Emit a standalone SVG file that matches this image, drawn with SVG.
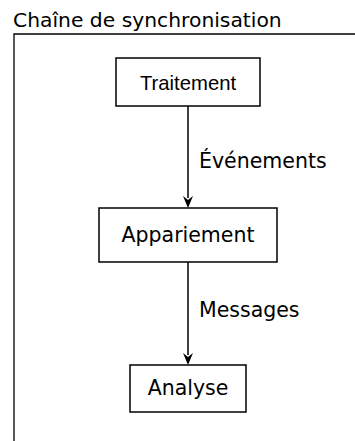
<svg xmlns="http://www.w3.org/2000/svg" width="355" height="441" viewBox="0 0 355 441">
<defs>
<style>
.box{fill:#fff;stroke:#000;stroke-width:1.5}
.frame{fill:none;stroke:#000;stroke-width:1.3}
.lbl{font-family:"DejaVu Sans",sans-serif;font-size:20.5px;fill:#000}
.arial{font-family:"Liberation Sans",Arial,sans-serif;font-size:20.3px;fill:#000}
.edge{stroke:#000;stroke-width:1.5;fill:none}
.head{fill:#000}
</style>
</defs>
<rect width="355" height="441" fill="#fff"/>
<g id="frame">
<path class="frame" d="M14,441 V34 H355"/>
<text class="lbl" x="13" y="27" style="font-size:20.3px">Chaîne de synchronisation</text>
</g>
<g id="connectors">
<line class="edge" x1="188" y1="106" x2="188" y2="198"/>
<path class="head" d="M183,196 L188,200 L193,196 L188,208 Z"/>
<text class="lbl" x="199" y="168">Événements</text>
<line class="edge" x1="188" y1="262" x2="188" y2="355"/>
<path class="head" d="M183,353 L188,357 L193,353 L188,365 Z"/>
<text class="lbl" x="199" y="317">Messages</text>
</g>
<g id="traitement">
<rect class="box" x="116" y="58" width="144" height="48"/>
<text class="arial" x="188" y="90" text-anchor="middle">Traitement</text>
</g>
<g id="appariement">
<rect class="box" x="99" y="208" width="178" height="54"/>
<text class="lbl" x="188" y="242" text-anchor="middle">Appariement</text>
</g>
<g id="analyse">
<rect class="box" x="130" y="365" width="116" height="47"/>
<text class="lbl" x="188" y="395" text-anchor="middle">Analyse</text>
</g>
</svg>
